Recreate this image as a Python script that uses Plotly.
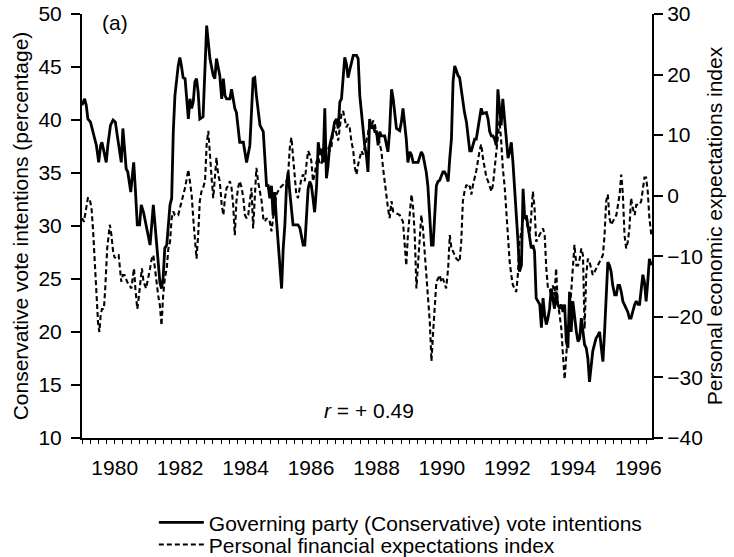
import plotly.graph_objects as go

# Governing party (Conservative) vote intentions, % (left axis)
vote_years = [
    1979.00, 1979.08, 1979.13, 1979.18, 1979.26, 1979.34, 1979.44, 1979.51, 1979.57, 1979.61,
    1979.67, 1979.74, 1979.79, 1979.87, 1979.95, 1980.02, 1980.08, 1980.15, 1980.20, 1980.25,
    1980.30, 1980.35, 1980.40, 1980.49, 1980.53, 1980.58, 1980.63, 1980.69, 1980.76, 1980.81,
    1980.88, 1980.96, 1981.08, 1981.18, 1981.23, 1981.33, 1981.38, 1981.43, 1981.48, 1981.53,
    1981.59, 1981.69, 1981.74, 1981.79, 1981.84, 1981.94, 1981.99, 1982.04, 1982.09, 1982.15,
    1982.20, 1982.25, 1982.30, 1982.35, 1982.40, 1982.45, 1982.50, 1982.55, 1982.60, 1982.70,
    1982.81, 1982.86, 1982.91, 1983.01, 1983.06, 1983.11, 1983.21, 1983.27, 1983.32, 1983.37,
    1983.42, 1983.52, 1983.57, 1983.62, 1983.67, 1983.72, 1983.82, 1983.93, 1984.03, 1984.13,
    1984.23, 1984.28, 1984.33, 1984.44, 1984.54, 1984.64, 1984.69, 1984.74, 1984.79, 1984.84,
    1984.89, 1984.94, 1985.05, 1985.10, 1985.15, 1985.20, 1985.25, 1985.30, 1985.35, 1985.45,
    1985.50, 1985.60, 1985.66, 1985.71, 1985.76, 1985.81, 1985.86, 1985.91, 1985.96, 1986.01,
    1986.06, 1986.11, 1986.17, 1986.22, 1986.27, 1986.32, 1986.37, 1986.42, 1986.47, 1986.52,
    1986.57, 1986.62, 1986.67, 1986.72, 1986.78, 1986.83, 1986.88, 1986.93, 1986.98, 1987.03,
    1987.08, 1987.13, 1987.18, 1987.23, 1987.29, 1987.39, 1987.44, 1987.49, 1987.54, 1987.59,
    1987.64, 1987.69, 1987.74, 1987.79, 1987.84, 1987.90, 1987.95, 1988.00, 1988.05, 1988.10,
    1988.15, 1988.25, 1988.30, 1988.35, 1988.40, 1988.46, 1988.51, 1988.56, 1988.61, 1988.71,
    1988.76, 1988.81, 1988.86, 1988.91, 1988.96, 1989.02, 1989.07, 1989.12, 1989.27, 1989.37,
    1989.42, 1989.47, 1989.52, 1989.57, 1989.63, 1989.68, 1989.73, 1989.78, 1989.83, 1989.88,
    1989.93, 1990.03, 1990.08, 1990.13, 1990.19, 1990.24, 1990.29, 1990.34, 1990.39, 1990.44,
    1990.49, 1990.54, 1990.59, 1990.64, 1990.69, 1990.75, 1990.80, 1990.85, 1990.90, 1990.95,
    1991.00, 1991.05, 1991.10, 1991.15, 1991.20, 1991.25, 1991.36, 1991.41, 1991.46, 1991.51,
    1991.56, 1991.61, 1991.66, 1991.71, 1991.76, 1991.81, 1991.86, 1991.92, 1991.97, 1992.02,
    1992.07, 1992.12, 1992.17, 1992.22, 1992.27, 1992.32, 1992.37, 1992.43, 1992.48, 1992.53,
    1992.58, 1992.63, 1992.68, 1992.73, 1992.78, 1992.83, 1992.88, 1992.93, 1992.99, 1993.04,
    1993.09, 1993.14, 1993.19, 1993.24, 1993.29, 1993.34, 1993.39, 1993.44, 1993.49, 1993.54,
    1993.60, 1993.65, 1993.70, 1993.75, 1993.80, 1993.85, 1993.90, 1993.95, 1994.00, 1994.05,
    1994.11, 1994.16, 1994.21, 1994.26, 1994.31, 1994.36, 1994.41, 1994.46, 1994.51, 1994.56,
    1994.61, 1994.66, 1994.71, 1994.77, 1994.82, 1994.87, 1994.92, 1994.97, 1995.02, 1995.07,
    1995.12, 1995.17, 1995.22, 1995.28, 1995.33, 1995.38, 1995.43, 1995.48, 1995.53, 1995.58,
    1995.63, 1995.68, 1995.73, 1995.78, 1995.83, 1995.89, 1995.94, 1995.99, 1996.04, 1996.09,
    1996.14, 1996.19, 1996.24, 1996.29, 1996.34, 1996.40,
]
vote_pct = [
    41.4, 42.0, 41.4, 40.1, 39.8, 38.9, 37.6, 36.0, 37.6, 37.9,
    37.0, 36.0, 37.6, 39.5, 40.0, 39.8, 38.5, 36.7, 36.0, 39.2,
    37.0, 35.4, 35.1, 33.2, 34.5, 36.0, 33.5, 30.1, 30.1, 32.0,
    31.3, 30.1, 28.2, 32.0, 30.1, 26.6, 24.7, 24.1, 25.1, 27.9,
    28.2, 32.0, 32.6, 38.9, 42.3, 45.1, 45.9, 45.1, 44.0, 43.9,
    42.0, 40.1, 42.0, 41.1, 41.7, 43.6, 43.9, 42.6, 40.1, 40.3,
    48.9, 47.6, 45.8, 44.2, 43.9, 45.8, 44.2, 42.0, 43.9, 42.3,
    42.0, 42.0, 42.9, 42.0, 41.1, 40.7, 37.9, 37.9, 36.0, 37.6,
    43.9, 44.0, 42.3, 39.5, 38.9, 33.8, 33.8, 32.6, 33.8, 31.0,
    33.2, 30.7, 26.3, 24.1, 27.9, 30.1, 33.8, 35.1, 33.2, 30.1,
    30.1, 30.1, 29.8, 28.8, 28.2, 28.2, 31.3, 33.5, 34.2, 33.8,
    32.6, 31.3, 33.8, 37.9, 36.7, 37.3, 36.0, 41.1, 34.5, 35.7,
    37.6, 38.2, 38.9, 39.8, 40.1, 39.2, 41.7, 42.0, 43.9, 45.9,
    45.3, 44.0, 44.7, 45.3, 46.1, 46.1, 45.8, 42.3, 40.7, 38.9,
    37.6, 36.7, 35.1, 40.1, 39.2, 39.5, 38.9, 38.9, 37.6, 38.9,
    38.5, 38.5, 37.6, 37.0, 38.9, 42.9, 42.0, 40.4, 39.2, 39.0,
    39.8, 41.1, 39.8, 38.2, 36.0, 37.0, 36.7, 36.0, 36.0, 37.0,
    36.7, 36.0, 35.1, 33.8, 30.7, 28.2, 28.2, 30.7, 33.8, 34.2,
    34.3, 35.1, 35.1, 34.8, 34.2, 36.4, 38.2, 43.6, 45.1, 44.7,
    44.2, 44.0, 42.9, 41.4, 40.7, 39.8, 38.5, 37.1, 37.1, 37.6,
    38.2, 38.2, 39.2, 40.1, 41.1, 40.6, 40.7, 40.1, 38.9, 38.5,
    38.5, 38.2, 37.6, 42.9, 41.1, 39.5, 42.0, 39.8, 38.2, 36.4,
    37.0, 37.9, 36.0, 33.8, 31.3, 28.8, 25.7, 26.3, 33.5, 30.7,
    31.0, 29.8, 28.8, 27.9, 28.2, 27.6, 23.2, 22.9, 22.6, 20.4,
    23.2, 21.6, 20.7, 21.3, 22.2, 24.1, 23.2, 22.2, 23.8, 22.6,
    22.2, 22.6, 21.9, 22.6, 19.1, 18.5, 23.8, 20.0, 22.9, 21.3,
    20.0, 19.1, 19.4, 21.3, 20.0, 18.8, 18.5, 17.5, 15.3, 16.9,
    18.2, 18.8, 19.4, 19.7, 20.0, 18.5, 17.2, 20.0, 23.2, 26.6,
    26.3, 25.7, 24.4, 23.5, 23.5, 24.4, 24.4, 23.8, 22.9, 22.6,
    22.2, 21.9, 21.3, 21.3, 21.9, 22.6, 22.9, 22.6, 22.6, 23.8,
    25.4, 24.7, 22.9, 24.7, 26.9, 26.3,
]

# Personal financial expectations index (right axis)
exp_years = [
    1979.00, 1979.06, 1979.13, 1979.18, 1979.23, 1979.29, 1979.34, 1979.39, 1979.44, 1979.49,
    1979.53, 1979.57, 1979.61, 1979.67, 1979.71, 1979.77, 1979.85, 1979.90, 1979.95, 1980.00,
    1980.08, 1980.12, 1980.16, 1980.20, 1980.25, 1980.30, 1980.38, 1980.46, 1980.51, 1980.56,
    1980.59, 1980.63, 1980.69, 1980.73, 1980.79, 1980.83, 1980.88, 1980.96, 1981.08, 1981.13,
    1981.18, 1981.23, 1981.28, 1981.33, 1981.38, 1981.43, 1981.48, 1981.53, 1981.59, 1981.64,
    1981.69, 1981.74, 1981.79, 1981.84, 1981.94, 1982.04, 1982.15, 1982.25, 1982.30, 1982.35,
    1982.40, 1982.45, 1982.50, 1982.55, 1982.60, 1982.65, 1982.70, 1982.76, 1982.81, 1982.86,
    1982.91, 1982.96, 1983.01, 1983.06, 1983.11, 1983.16, 1983.21, 1983.27, 1983.32, 1983.37,
    1983.42, 1983.47, 1983.52, 1983.57, 1983.62, 1983.67, 1983.72, 1983.77, 1983.82, 1983.88,
    1983.93, 1983.98, 1984.03, 1984.08, 1984.13, 1984.18, 1984.23, 1984.28, 1984.33, 1984.38,
    1984.44, 1984.49, 1984.54, 1984.59, 1984.64, 1984.69, 1984.74, 1984.79, 1984.84, 1984.94,
    1985.05, 1985.15, 1985.25, 1985.30, 1985.35, 1985.40, 1985.45, 1985.55, 1985.60, 1985.66,
    1985.71, 1985.76, 1985.81, 1985.86, 1985.91, 1985.96, 1986.01, 1986.06, 1986.11, 1986.17,
    1986.22, 1986.27, 1986.32, 1986.37, 1986.42, 1986.47, 1986.52, 1986.57, 1986.62, 1986.67,
    1986.72, 1986.78, 1986.83, 1986.88, 1986.93, 1986.98, 1987.03, 1987.08, 1987.13, 1987.18,
    1987.23, 1987.29, 1987.34, 1987.39, 1987.44, 1987.49, 1987.54, 1987.59, 1987.64, 1987.69,
    1987.74, 1987.79, 1987.84, 1987.90, 1987.95, 1988.00, 1988.05, 1988.10, 1988.15, 1988.20,
    1988.25, 1988.30, 1988.35, 1988.40, 1988.46, 1988.51, 1988.61, 1988.71, 1988.81, 1988.86,
    1988.91, 1988.96, 1989.02, 1989.07, 1989.12, 1989.17, 1989.22, 1989.27, 1989.32, 1989.37,
    1989.42, 1989.47, 1989.52, 1989.57, 1989.63, 1989.68, 1989.73, 1989.78, 1989.83, 1989.88,
    1989.93, 1989.98, 1990.03, 1990.13, 1990.19, 1990.24, 1990.29, 1990.34, 1990.39, 1990.44,
    1990.54, 1990.59, 1990.64, 1990.69, 1990.75, 1990.80, 1990.85, 1990.90, 1990.95, 1991.05,
    1991.15, 1991.20, 1991.25, 1991.36, 1991.41, 1991.46, 1991.51, 1991.56, 1991.61, 1991.66,
    1991.71, 1991.76, 1991.81, 1991.86, 1991.92, 1991.97, 1992.02, 1992.07, 1992.12, 1992.17,
    1992.22, 1992.27, 1992.32, 1992.37, 1992.43, 1992.48, 1992.53, 1992.58, 1992.63, 1992.68,
    1992.73, 1992.78, 1992.83, 1992.88, 1992.93, 1992.99, 1993.04, 1993.09, 1993.14, 1993.19,
    1993.24, 1993.29, 1993.34, 1993.39, 1993.44, 1993.49, 1993.54, 1993.60, 1993.65, 1993.70,
    1993.75, 1993.80, 1993.85, 1993.90, 1993.95, 1994.00, 1994.05, 1994.11, 1994.16, 1994.21,
    1994.26, 1994.31, 1994.36, 1994.41, 1994.46, 1994.51, 1994.56, 1994.61, 1994.66, 1994.71,
    1994.82, 1994.92, 1994.97, 1995.02, 1995.07, 1995.12, 1995.17, 1995.22, 1995.33, 1995.43,
    1995.48, 1995.53, 1995.58, 1995.63, 1995.68, 1995.73, 1995.78, 1995.83, 1995.89, 1995.94,
    1996.04, 1996.09, 1996.14, 1996.19, 1996.24, 1996.29, 1996.34, 1996.40,
]
exp_index = [
    -3.7, -4.3, -2.0, -0.4, -0.4, -2.0, -5.9, -11.5, -17.0, -20.9,
    -22.5, -19.8, -18.7, -18.7, -15.3, -8.7, -4.8, -6.5, -9.2, -10.3,
    -9.8, -9.8, -12.0, -14.2, -13.1, -13.1, -14.2, -14.8, -15.3, -13.1,
    -12.0, -15.3, -18.7, -17.0, -13.7, -12.0, -14.2, -15.3, -12.0, -10.4,
    -9.8, -12.0, -14.8, -16.5, -18.1, -21.4, -16.5, -13.7, -12.0, -8.7,
    -7.6, -3.7, -2.6, -3.2, -3.2, -0.9, 1.3, 4.3, 2.4, 0.2,
    -3.7, -6.5, -10.4, -6.5, -0.9, 0.7, 1.3, 2.4, 8.5, 10.7,
    6.3, 3.0, -0.4, 3.0, 6.3, 3.5, 2.4, -1.5, -3.2, -0.4,
    1.3, 1.6, 2.4, 1.3, -1.5, -6.5, -0.9, 1.3, 2.4, 1.3,
    -0.4, -3.2, -3.7, -3.2, -0.9, 1.3, -5.4, 0.2, 4.6, 2.4,
    0.2, -0.9, -3.7, -4.3, -3.7, -4.3, -4.3, -5.9, -3.7, 0.2,
    1.3, 1.8, 2.4, 3.5, 7.9, 9.6, 6.8, 0.2, -0.4, 1.3,
    3.0, 3.5, 2.4, 5.2, 7.4, 6.8, 5.7, 2.4, 3.5, 5.7,
    6.3, 5.2, 5.2, 6.8, 6.3, 7.9, 7.9, 7.4, 7.9, 10.2,
    11.3, 10.2, 9.1, 11.3, 13.5, 14.0, 12.4, 11.3, 11.8, 11.3,
    9.1, 7.4, 4.6, 3.5, 5.2, 6.3, 7.4, 6.8, 7.9, 9.1,
    10.2, 12.4, 11.3, 12.4, 11.8, 10.2, 10.2, 8.5, 7.4, 4.6,
    2.4, -0.4, -2.0, -3.7, -0.9, -2.6, -2.9, -3.2, -4.3, -7.6,
    -11.5, -6.5, -3.2, 0.2, -2.0, -6.5, -15.3, -10.9, -6.5, -3.2,
    -5.4, -8.7, -12.0, -16.5, -20.9, -27.3, -22.6, -17.6, -14.2, -13.7,
    -13.1, -14.2, -13.7, -15.3, -12.0, -6.5, -8.7, -9.2, -9.8, -10.4,
    -10.9, -7.6, -0.9, 0.7, 1.8, 1.3, 1.6, 0.2, 1.8, 4.1,
    7.4, 8.5, 6.3, 3.0, 2.4, 1.3, 0.7, 1.8, 4.6, 7.4,
    10.2, 12.4, 9.1, 4.6, 1.3, -3.2, -7.6, -10.9, -13.1, -14.8,
    -15.3, -15.9, -13.1, -7.6, -5.9, -3.7, -3.2, -4.3, -5.4, -6.5,
    -3.2, 0.7, -2.0, -7.6, -7.0, -6.5, -5.9, -5.4, -6.5, -12.0,
    -15.3, -15.3, -16.5, -14.8, -16.5, -12.0, -17.6, -19.8, -22.0, -26.4,
    -30.3, -26.4, -22.0, -19.8, -16.5, -12.0, -8.1, -11.5, -11.5, -10.4,
    -8.7, -9.8, -22.0, -13.1, -10.4, -10.9, -12.0, -13.1, -12.6, -12.0,
    -10.9, -9.8, -6.5, -0.9, 0.2, -3.7, -4.8, -4.3, -3.2, 0.2,
    3.5, 0.2, -6.5, -8.7, -7.6, -5.4, -0.4, -2.0, -3.2, -1.5,
    -1.5, -0.9, 1.3, 3.0, 3.0, 0.7, -3.7, -6.5,
]

year_ticks = [1980, 1982, 1984, 1986, 1988, 1990, 1992, 1994, 1996]
year_labels = [str(y) for y in year_ticks]

FONT = "Liberation Sans, Arial, Helvetica, sans-serif"
FS = 21

fig = go.Figure()
fig.add_trace(go.Scatter(
    x=vote_years, y=vote_pct, mode="lines", yaxis="y", legend="legend",
    name="Governing party (Conservative) vote intentions",
    line=dict(color="black", width=2.8),
))
fig.add_trace(go.Scatter(
    x=exp_years, y=exp_index, mode="lines", yaxis="y2", legend="legend2",
    name="Personal financial expectations index",
    line=dict(color="black", width=2.1, dash="5px,3px"),
))

legend_common = dict(
    xanchor="left", yanchor="middle", font=dict(size=FS),
    bgcolor="rgba(0,0,0,0)", itemwidth=45, borderwidth=0,
)

fig.update_layout(
    width=734, height=557,
    margin=dict(l=82, r=82, t=14, b=119, autoexpand=False),
    paper_bgcolor="white", plot_bgcolor="white",
    font=dict(family=FONT, size=FS, color="black"),
    showlegend=True,
    legend=dict(x=0.126, y=-0.20, **legend_common),
    legend2=dict(x=0.126, y=-0.252, **legend_common),
    xaxis=dict(
        range=[1979.0, 1996.42], showgrid=False, zeroline=False,
        showline=True, linecolor="black", linewidth=2,
        tickmode="array", tickvals=year_ticks, ticktext=year_labels,
        ticks="outside", ticklen=4, tickwidth=1.2, tickcolor="black",
        minor=dict(tickmode="linear", tick0=1979, dtick=0.25, ticks="outside",
                   ticklen=4, tickwidth=1.2, tickcolor="black"),
        tickfont=dict(size=FS), automargin=False, ticklabelstandoff=6,
    ),
    yaxis=dict(
        range=[10, 50], dtick=5, showgrid=False, zeroline=False,
        showline=True, linecolor="black", linewidth=2,
        ticks="outside", ticklen=9, tickwidth=1.5, tickcolor="black",
        tickfont=dict(size=FS), automargin=False, ticklabelstandoff=5,
        title=dict(text="Conservative vote intentions (percentage)",
                   font=dict(size=FS), standoff=4),
    ),
    yaxis2=dict(
        range=[-40, 30], dtick=10, overlaying="y", side="right",
        showgrid=False, zeroline=False,
        showline=True, linecolor="black", linewidth=2,
        ticks="outside", ticklen=9, tickwidth=1.5, tickcolor="black",
        tickfont=dict(size=FS), automargin=False,
        title=dict(text="Personal economic expectations index",
                   font=dict(size=FS), standoff=4),
    ),
    annotations=[
        dict(text="(a)", xref="paper", yref="paper", x=0.058, y=0.979,
             xanchor="center", yanchor="middle", showarrow=False,
             font=dict(size=FS)),
        dict(text="<i>r</i> = + 0.49", xref="paper", yref="paper", x=0.5035, y=0.066,
             xanchor="center", yanchor="middle", showarrow=False,
             font=dict(size=FS)),
    ],
)

fig.write_html(
    "out.html",
    config={"displayModeBar": False},
    post_script="document.body.style.margin='0';document.body.style.overflow='hidden';",
)
